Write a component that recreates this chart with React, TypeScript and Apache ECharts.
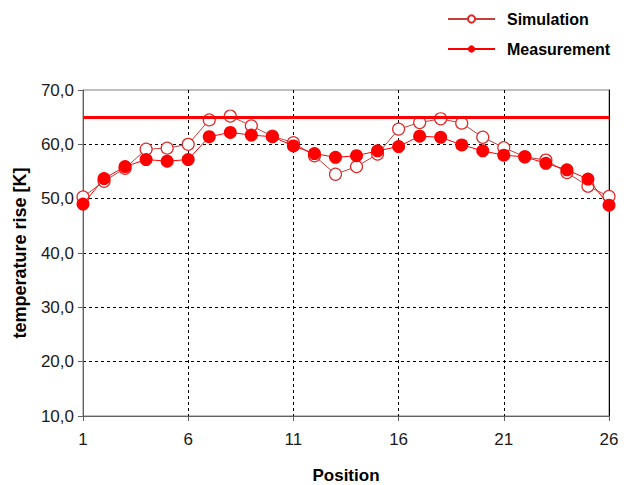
import React, { useEffect, useRef } from "react";
import * as echarts from "echarts";

const positions = Array.from({ length: 26 }, (_, i) => String(i + 1));
const simulation = [50.3, 53.2, 55.6, 59.1, 59.3, 60.0, 64.5, 65.2, 63.4, 61.5, 60.3, 57.9, 54.5, 55.9, 58.2, 62.8, 64.0, 64.7, 63.9, 61.3, 59.4, 57.7, 57.1, 54.8, 52.3, 50.4];
const measurement = [49.0, 53.7, 55.9, 57.2, 56.9, 57.2, 61.4, 62.2, 61.7, 61.4, 59.7, 58.3, 57.6, 57.9, 58.8, 59.6, 61.5, 61.3, 59.9, 58.8, 58.0, 57.7, 56.5, 55.3, 53.6, 48.8];
const limitValue = 65;

const FONT = "'Liberation Sans', Arial, sans-serif";

export default function App() {
  const ref = useRef<HTMLDivElement>(null);
  useEffect(() => {
    if (!ref.current) return;
    const chart = echarts.init(ref.current, undefined, { renderer: "svg" });
    chart.setOption({
      animation: false,
      backgroundColor: "#ffffff",
      textStyle: { fontFamily: FONT },
      legend: {
        orient: "vertical",
        left: 442,
        top: 6,
        itemWidth: 47,
        itemHeight: 9,
        itemGap: 14,
        textStyle: {
          fontFamily: FONT,
          fontSize: 16,
          fontWeight: "bold",
          color: "#000",
          padding: [0, 0, 0, 7],
        },
        data: ["Simulation", "Measurement"],
      },
      grid: {
        left: 83,
        right: 17,
        top: 90,
        bottom: 69,
        outerBoundsMode: "none",
        containLabel: false,
        show: true,
        borderColor: "#808080",
        borderWidth: 1,
      },
      xAxis: {
        type: "category",
        data: positions,
        boundaryGap: false,
        name: "Position",
        nameLocation: "middle",
        nameGap: 51,
        nameTextStyle: { fontFamily: FONT, fontSize: 17, fontWeight: "bold", color: "#000" },
        axisLine: { lineStyle: { color: "#606060" } },
        axisTick: { interval: 4, length: 5, lineStyle: { color: "#606060" } },
        axisLabel: { interval: 4, margin: 15, fontSize: 17, color: "#1a1a1a", fontFamily: FONT },
        splitLine: {
          show: true,
          interval: 4,
          showMinLine: false,
          showMaxLine: false,
          lineStyle: { color: "#000", type: [3, 3], width: 1 },
        },
      },
      yAxis: [
        {
          type: "value",
          min: 10,
          max: 70,
          interval: 10,
          name: "temperature rise [K]",
          nameLocation: "middle",
          nameGap: 54,
          nameTextStyle: { fontFamily: FONT, fontSize: 18, fontWeight: "bold", color: "#000" },
          axisLine: { show: true, lineStyle: { color: "#606060" } },
          axisTick: { show: true, length: 5, lineStyle: { color: "#606060" } },
          axisLabel: {
            fontSize: 17,
            margin: 9,
            color: "#1a1a1a",
            fontFamily: FONT,
            formatter: (v: number) => v.toFixed(1).replace(".", ","),
          },
          splitLine: {
            show: true,
            showMinLine: false,
            showMaxLine: false,
            lineStyle: { color: "#000", type: [3, 3], width: 1 },
          },
        },
        {
          type: "value",
          position: "right",
          min: 10,
          max: 70,
          interval: 10,
          axisLine: { show: true, lineStyle: { color: "#000" } },
          axisTick: { show: false },
          axisLabel: { show: false },
          splitLine: { show: false },
        },
      ],
      series: [
        {
          name: "Simulation",
          type: "line",
          data: simulation,
          symbol: "circle",
          symbolSize: 12,
          lineStyle: { color: "#c83c3c", width: 1 },
          itemStyle: { color: "#ffffff", borderColor: "#e02a2a", borderWidth: 1.2 },
          z: 2,
        },
        {
          name: "Measurement",
          type: "line",
          data: measurement,
          symbol: "circle",
          symbolSize: 13,
          lineStyle: { color: "#ff0000", width: 1 },
          itemStyle: { color: "#ff0000", borderColor: "#ff0000", borderWidth: 0 },
          z: 3,
          markLine: {
            silent: true,
            symbol: ["none", "none"],
            label: { show: false },
            lineStyle: { color: "#ff0000", width: 3, type: "solid" },
            data: [{ yAxis: limitValue }],
          },
        },
      ],
    });
    return () => chart.dispose();
  }, []);
  return (
    <div
      ref={ref}
      style={{ position: "fixed", left: 0, top: 0, width: 626, height: 485 }}
    />
  );
}
